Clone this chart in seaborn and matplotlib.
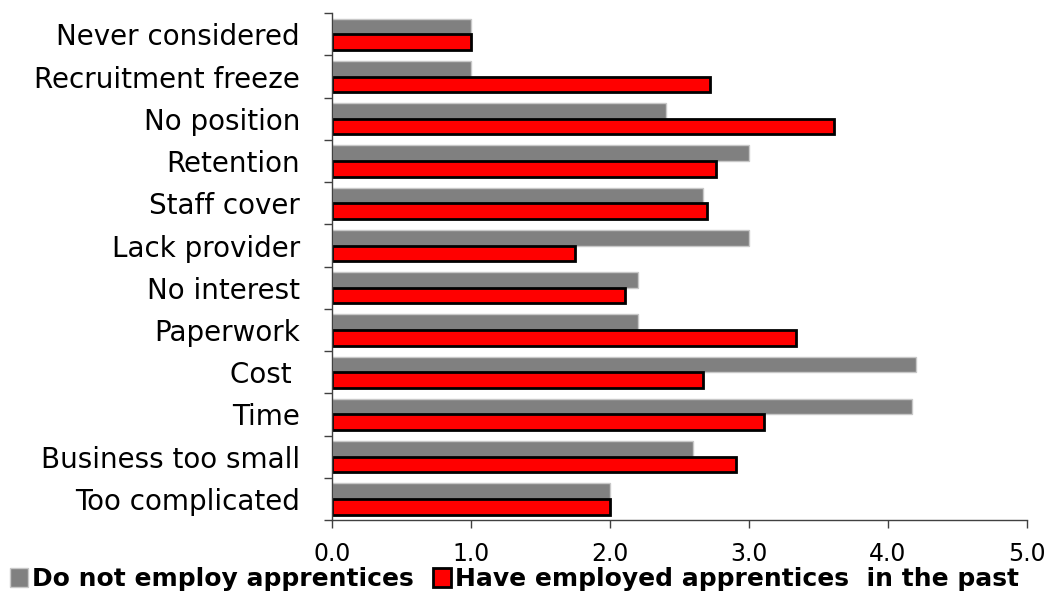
import matplotlib
matplotlib.use('Agg')
import matplotlib.pyplot as plt
import seaborn as sns
import pandas as pd
import numpy as np
from matplotlib.patches import Patch

reasons = ['Never considered', 'Recruitment freeze', 'No position', 'Retention',
           'Staff cover', 'Lack provider', 'No interest', 'Paperwork', 'Cost ',
           'Time', 'Business too small', 'Too complicated']
do_not_employ = [1.0, 1.0, 2.40, 3.0, 2.67, 3.0, 2.20, 2.20, 4.20, 4.17, 2.60, 2.0]
have_employed = [1.0, 2.72, 3.61, 2.76, 2.70, 1.75, 2.11, 3.34, 2.67, 3.11, 2.91, 2.0]
groups = ['Do not employ apprentices', 'Have employed apprentices  in the past']
x_ticks = [0.0, 1.0, 2.0, 3.0, 4.0, 5.0]

df = pd.DataFrame({
    'reason': reasons * 2,
    'score': do_not_employ + have_employed,
    'group': [groups[0]] * len(reasons) + [groups[1]] * len(reasons),
})

sns.set_style('white')
plt.rcParams['font.family'] = ['DejaVu Sans']
plt.rcParams['text.color'] = 'black'
plt.rcParams['xtick.color'] = 'black'
plt.rcParams['ytick.color'] = 'black'

fig = plt.figure(figsize=(10.56, 5.92), dpi=100)
ax = fig.add_axes([0.3144, 0.1216, 0.658, 0.856])

sns.barplot(data=df, y='reason', x='score', hue='group', orient='h',
            palette=['#808080', '#ff0000'], saturation=1, width=0.74,
            errorbar=None, legend=False, ax=ax)

# grey bars: thin light edge, red bars: heavy black edge
for patch in ax.containers[0]:
    patch.set_edgecolor('#c8c8c8')
    patch.set_linewidth(1)
for patch in ax.containers[1]:
    patch.set_edgecolor('black')
    patch.set_linewidth(2)

ax.set_xlim(0, 5)
ax.set_ylim(len(reasons) - 0.5, -0.5)
ax.set_xticks(x_ticks)
ax.set_xticklabels([f'{t:.1f}' for t in x_ticks])
ax.set_xlabel('')
ax.set_ylabel('')

ax.set_yticks(np.arange(len(reasons) + 1) - 0.5, minor=True)
ax.tick_params(axis='y', which='major', length=0, pad=23, labelsize=20)
ax.tick_params(axis='y', which='minor', length=6, width=1, color='#404040', left=True)
ax.tick_params(axis='x', which='major', length=6, width=1, color='#404040',
               bottom=True, pad=10, labelsize=17)

for side in ['top', 'right']:
    ax.spines[side].set_visible(False)
for side in ['left', 'bottom']:
    ax.spines[side].set_color('#404040')
    ax.spines[side].set_linewidth(1)

handles = [Patch(facecolor='#808080', edgecolor='#c8c8c8'),
           Patch(facecolor='#ff0000', edgecolor='black', linewidth=2)]
fig.legend(handles, groups, loc='lower left', bbox_to_anchor=(0.008, 0.0),
           ncol=2, frameon=False, borderpad=0.05, borderaxespad=0,
           handlelength=0.75, handleheight=0.8, handletextpad=0.15,
           columnspacing=0.75, prop={'weight': 'bold', 'size': 18})

fig.savefig('out.png', dpi=100)
